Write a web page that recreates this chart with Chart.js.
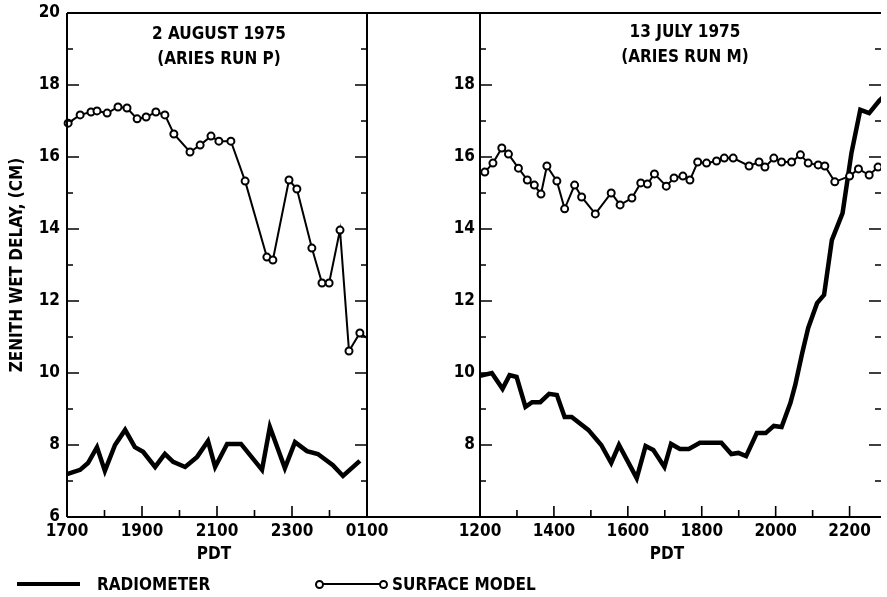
<!DOCTYPE html>
<html>
<head>
<meta charset="utf-8">
<script src="https://cdn.jsdelivr.net/npm/chart.js@4.4.1/dist/chart.umd.min.js"></script>
<style>
  body { margin: 0; background: #fff; }
  #wrap { position: relative; width: 887px; height: 597px; overflow: hidden;
          font-family: "Liberation Sans Narrow", "DejaVu Sans Condensed", "Roboto Condensed", "Liberation Sans", sans-serif;
          font-weight: bold; font-size: 17px; line-height: 17px; color: #000; }
  .box { position: absolute; top: 0; height: 597px; }
  .lbl { position: absolute; white-space: nowrap; }
  .ctr { position: absolute; width: 220px; text-align: center; white-space: nowrap; }
  .dot { position: absolute; width: 5px; height: 5px; border: 2px solid #000; border-radius: 50%; background: #fff; }
</style>
</head>
<body>
<div id="wrap">
  <div class="box" style="left:0;width:400px"><canvas id="leftChart"></canvas></div>
  <div class="box" style="left:367px;width:520px"><canvas id="rightChart"></canvas></div>

  <div class="ctr" style="left:109px;top:25px">2 AUGUST 1975</div>
  <div class="ctr" style="left:109px;top:50px">(ARIES RUN P)</div>
  <div class="ctr" style="left:575px;top:23px">13 JULY 1975</div>
  <div class="ctr" style="left:575px;top:48px">(ARIES RUN M)</div>

  <div class="ctr" style="left:104px;top:545px">PDT</div>
  <div class="ctr" style="left:557px;top:545px">PDT</div>

  <div style="position:absolute;left:17px;top:582px;width:63px;height:4px;background:#000"></div>
  <div class="lbl" style="left:97px;top:576px">RADIOMETER</div>
  <div style="position:absolute;left:320px;top:583px;width:63px;height:2px;background:#000"></div>
  <div class="dot" style="left:315px;top:580px"></div>
  <div class="dot" style="left:379px;top:580px"></div>
  <div class="lbl" style="left:392px;top:576px">SURFACE MODEL</div>
</div>
<script>
// hours of day; left run goes past midnight, so 24.5 = 0030
const leftRadioTime = [17.0, 17.35, 17.56, 17.8, 18.01, 18.28, 18.55, 18.81, 19.03, 19.35, 19.61, 19.83, 20.15, 20.47, 20.76, 20.95, 21.27, 21.64, 22.2, 22.41, 22.81, 23.08, 23.4, 23.69, 24.09, 24.36, 24.81];
const leftRadio = [7.19, 7.31, 7.5, 7.94, 7.28, 8.0, 8.42, 7.94, 7.81, 7.39, 7.75, 7.53, 7.39, 7.67, 8.11, 7.39, 8.03, 8.03, 7.31, 8.5, 7.36, 8.08, 7.83, 7.75, 7.44, 7.14, 7.56];
const leftModelTime = [17.03, 17.35, 17.64, 17.8, 18.07, 18.36, 18.6, 18.87, 19.11, 19.37, 19.61, 19.85, 20.28, 20.55, 20.84, 21.05, 21.37, 21.75, 22.33, 22.49, 22.92, 23.13, 23.53, 23.8, 23.99, 24.28, 24.52, 24.81, 25.1];
const leftModel = [16.94, 17.17, 17.25, 17.28, 17.22, 17.39, 17.36, 17.06, 17.11, 17.25, 17.17, 16.64, 16.14, 16.33, 16.58, 16.44, 16.44, 15.33, 13.22, 13.14, 15.36, 15.11, 13.47, 12.5, 12.5, 13.97, 10.61, 11.11, 10.9];

const rightRadioTime = [12.0, 12.32, 12.61, 12.8, 12.99, 13.23, 13.41, 13.63, 13.87, 14.08, 14.29, 14.48, 14.93, 15.28, 15.55, 15.76, 16.24, 16.48, 16.69, 16.99, 17.17, 17.41, 17.65, 17.95, 18.53, 18.8, 18.99, 19.2, 19.49, 19.73, 19.95, 20.16, 20.4, 20.53, 20.72, 20.88, 21.12, 21.31, 21.52, 21.81, 22.05, 22.29, 22.53, 22.8, 22.95];
const rightRadio = [9.92, 10.0, 9.56, 9.94, 9.89, 9.06, 9.19, 9.19, 9.42, 9.39, 8.78, 8.78, 8.42, 8.0, 7.5, 8.0, 7.08, 7.97, 7.86, 7.39, 8.03, 7.89, 7.89, 8.06, 8.06, 7.75, 7.78, 7.69, 8.33, 8.33, 8.53, 8.5, 9.17, 9.67, 10.56, 11.25, 11.94, 12.17, 13.69, 14.44, 16.11, 17.31, 17.22, 17.56, 17.7];
const rightModelTime = [12.13, 12.35, 12.59, 12.77, 13.04, 13.28, 13.47, 13.65, 13.81, 14.08, 14.29, 14.56, 14.75, 15.12, 15.55, 15.79, 16.11, 16.35, 16.53, 16.72, 17.04, 17.25, 17.49, 17.68, 17.89, 18.13, 18.4, 18.61, 18.85, 19.28, 19.55, 19.71, 19.95, 20.16, 20.43, 20.67, 20.88, 21.15, 21.33, 21.6, 22.0, 22.24, 22.53, 22.77];
const rightModel = [15.58, 15.83, 16.25, 16.08, 15.69, 15.36, 15.22, 14.97, 15.75, 15.33, 14.56, 15.22, 14.89, 14.42, 15.0, 14.67, 14.86, 15.28, 15.25, 15.53, 15.19, 15.42, 15.47, 15.36, 15.86, 15.83, 15.89, 15.97, 15.97, 15.75, 15.86, 15.72, 15.97, 15.86, 15.86, 16.06, 15.83, 15.78, 15.75, 15.31, 15.47, 15.67, 15.5, 15.72];

const FONT = '"Liberation Sans Narrow", "DejaVu Sans Condensed", "Roboto Condensed", "Liberation Sans", sans-serif';
Chart.defaults.font.family = FONT;
Chart.defaults.font.size = 17;
Chart.defaults.font.weight = 'bold';
Chart.defaults.color = '#000';

function pts(t, v) { return t.map((x, i) => ({ x: x, y: v[i] })); }
function hhmm(h) { return String(h % 24).padStart(2, '0') + '00'; }

// box round each panel, with short ticks pointing inwards
const framePlugin = {
  id: 'frame',
  afterDatasetsDraw(chart, args, opts) {
    const { ctx, chartArea: a, scales: { x, y } } = chart;
    ctx.save();
    ctx.strokeStyle = '#000';
    ctx.lineWidth = 2;
    ctx.beginPath();
    const l = opts.extendLeft ? 0 : a.left;
    ctx.moveTo(l, a.top); ctx.lineTo(a.right, a.top);
    ctx.moveTo(l, a.bottom); ctx.lineTo(a.right, a.bottom);
    ctx.moveTo(a.left, a.top); ctx.lineTo(a.left, a.bottom);
    if (opts.rightBorder) { ctx.moveTo(a.right, a.top); ctx.lineTo(a.right, a.bottom); }
    ctx.stroke();
    ctx.lineWidth = 1.6;
    ctx.beginPath();
    x.ticks.forEach(t => {
      if (t.value <= x.min || t.value >= x.max) return;
      const px = x.getPixelForValue(t.value);
      const len = t.label !== '' ? 11 : 7;
      ctx.moveTo(px, a.bottom); ctx.lineTo(px, a.bottom - len);
    });
    y.ticks.forEach(t => {
      if (t.value <= y.min || t.value >= y.max) return;
      const py = y.getPixelForValue(t.value);
      const len = t.value % 2 === 0 ? 12 : 6;
      ctx.moveTo(a.left, py); ctx.lineTo(a.left + len, py);
      ctx.moveTo(a.right, py); ctx.lineTo(a.right - len, py);
    });
    ctx.stroke();
    ctx.restore();
  }
};

function modelSet(data) {
  return {
    label: 'SURFACE MODEL', data: data, borderColor: '#000', borderWidth: 2,
    pointRadius: 3.5, pointBorderWidth: 2, pointBackgroundColor: '#fff', pointBorderColor: '#000',
    tension: 0, clip: { left: 6, top: 6, right: 0, bottom: 6 }
  };
}
function radioSet(data) {
  return {
    label: 'RADIOMETER', data: data, borderColor: '#000', borderWidth: 4.5,
    pointRadius: 0, tension: 0, clip: { left: 6, top: 6, right: 0, bottom: 6 }
  };
}

// fixed axis boxes so both panels line up with the scan
function fixX(s) { s.height = 80; s.paddingLeft = 0; s.paddingRight = 0; }
function fixY(w) { return s => { s.width = w; s.paddingTop = 0; s.paddingBottom = 0; }; }

new Chart(document.getElementById('leftChart'), {
  type: 'line',
  data: { datasets: [modelSet(pts(leftModelTime, leftModel)), radioSet(pts(leftRadioTime, leftRadio))] },
  options: {
    responsive: true, maintainAspectRatio: false, animation: false,
    layout: { padding: { top: 13, right: 33, left: 0, bottom: 0 } },
    plugins: { legend: { display: false }, tooltip: { enabled: false }, frame: { rightBorder: true } },
    scales: {
      x: {
        type: 'linear', min: 17, max: 25,
        grid: { display: false, drawTicks: false }, border: { display: false },
        ticks: { stepSize: 1, autoSkip: false, maxRotation: 0, includeBounds: false, padding: 4,
                 callback: v => (Math.round(v) % 2 === 1 ? hhmm(Math.round(v)) : '') },
        afterFit: fixX
      },
      y: {
        min: 6, max: 20,
        grid: { display: false, drawTicks: false }, border: { display: false },
        ticks: { stepSize: 1, autoSkip: false, padding: 7,
                 callback: v => (v % 2 === 0 ? String(v) : '') },
        title: { display: true, text: 'ZENITH WET DELAY, (CM)', padding: { top: 7, bottom: 0 } },
        afterFit: fixY(67)
      }
    }
  },
  plugins: [framePlugin]
});

new Chart(document.getElementById('rightChart'), {
  type: 'line',
  data: { datasets: [modelSet(pts(rightModelTime, rightModel)), radioSet(pts(rightRadioTime, rightRadio))] },
  options: {
    responsive: true, maintainAspectRatio: false, animation: false,
    layout: { padding: { top: 13, right: 0, left: 0, bottom: 0 } },
    plugins: { legend: { display: false }, tooltip: { enabled: false }, frame: { extendLeft: true, rightBorder: false } },
    scales: {
      x: {
        type: 'linear', min: 12, max: 22.85,
        grid: { display: false, drawTicks: false }, border: { display: false },
        ticks: { stepSize: 1, autoSkip: false, maxRotation: 0, includeBounds: false, padding: 4,
                 callback: v => (Math.round(v) % 2 === 0 ? hhmm(Math.round(v)) : '') },
        afterFit: fixX
      },
      y: {
        min: 6, max: 20,
        grid: { display: false, drawTicks: false }, border: { display: false },
        ticks: { stepSize: 1, autoSkip: false, padding: 5,
                 callback: v => (v % 2 === 0 && v >= 8 && v <= 18 ? String(v) : '') },
        afterFit: fixY(113)
      }
    }
  },
  plugins: [framePlugin]
});
</script>
</body>
</html>
